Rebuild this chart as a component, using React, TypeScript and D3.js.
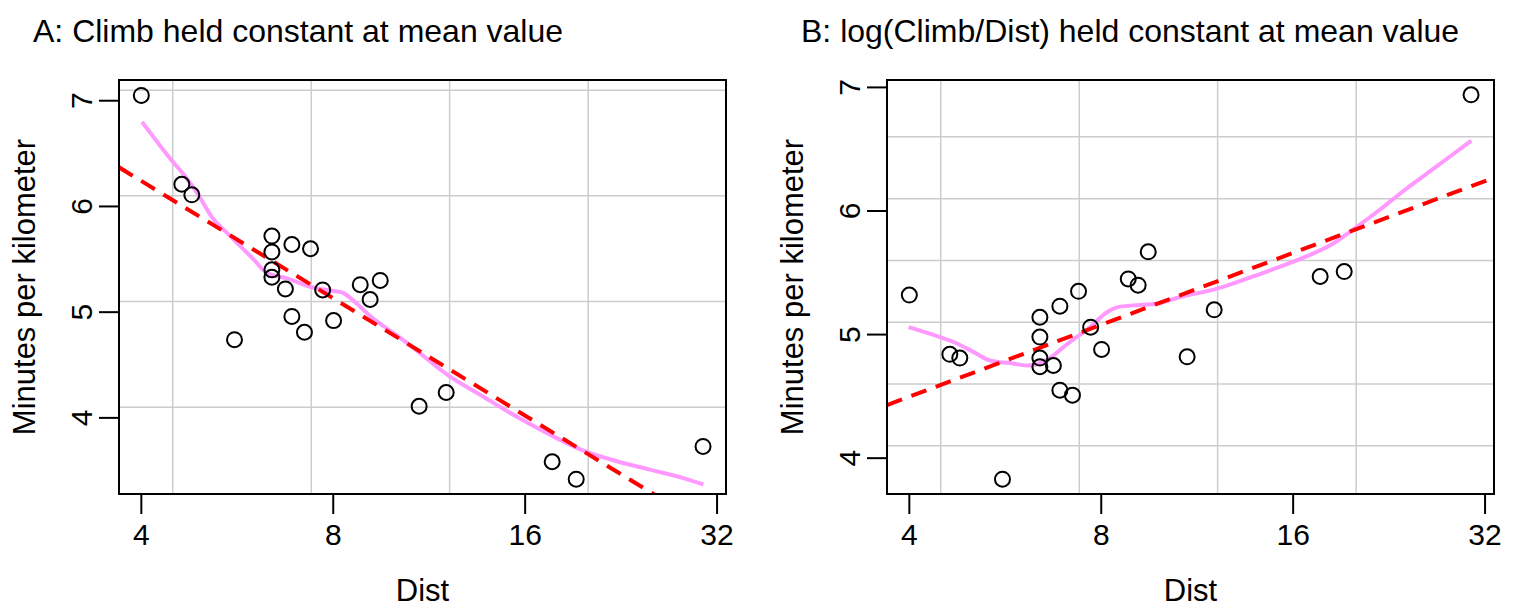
import * as d3 from 'd3';
import { useCallback } from 'react';

// Dist (km), shared by both panels
const distValues = [
  4.0, 4.63, 4.8, 5.6, 6.41, 6.41, 6.41, 6.41, 6.73, 6.89, 6.89, 7.21, 7.37, 7.7, 8.01, 8.82, 9.14,
  9.48, 10.91, 12.03, 17.64, 19.24, 30.42,
];

// Minutes per kilometer, panel A (Climb held at mean)
const minutesA = [
  7.05, 6.21, 6.11, 4.74, 5.72, 5.57, 5.4, 5.33, 5.22, 5.64, 4.96, 4.81, 5.6, 5.21, 4.92, 5.26, 5.12,
  5.3, 4.11, 4.24, 3.585, 3.42, 3.73,
];

// Minutes per kilometer, panel B (log(Climb/Dist) held at mean)
const minutesB = [
  5.32, 4.84, 4.81, 3.83, 5.14, 4.98, 4.81, 4.74, 4.75, 5.23, 4.55, 4.51, 5.35, 5.06, 4.88, 5.45, 5.4,
  5.67, 4.82, 5.2, 5.47, 5.51, 6.94,
];

// fitted lines (end points at the x-axis limits)
const fitA: [number, number][] = [
  [3.69, 6.37],
  [33.05, 2.86],
];
const fitB: [number, number][] = [
  [3.69, 4.43],
  [33.05, 6.27],
];

// smooth curves
const smoothA: [number, number][] = [
  [4.01, 6.8], [4.39, 6.49], [4.72, 6.26], [4.89, 6.13], [5.19, 5.88], [5.45, 5.75], [6.0, 5.5],
  [6.3, 5.37], [6.77, 5.32], [7.36, 5.24], [8.01, 5.2], [8.3, 5.18], [8.6, 5.11], [9.24, 4.94],
  [10.07, 4.78], [10.95, 4.61], [12.2, 4.39], [13.76, 4.2], [15.53, 4.01], [17.51, 3.84],
  [19.75, 3.69], [22.28, 3.59], [25.12, 3.51], [28.33, 3.43], [30.46, 3.37],
];
const smoothB: [number, number][] = [
  [3.99, 5.06], [4.69, 4.94], [5.04, 4.86], [5.35, 4.79], [5.75, 4.77], [6.11, 4.75], [6.34, 4.76],
  [6.65, 4.81], [7.06, 4.92], [7.68, 5.06], [7.87, 5.11], [8.16, 5.18], [8.46, 5.22], [9.2, 5.24],
  [9.77, 5.25], [10.76, 5.31], [12.13, 5.37], [14.36, 5.5], [16.2, 5.6], [18.26, 5.72],
  [20.11, 5.87], [21.88, 6.01], [23.8, 6.16], [26.21, 6.32], [30.46, 6.57],
];

const xTicks = [4, 8, 16, 32];
const yTicks = [4, 5, 6, 7];
const gridDist = [4.48, 7.39, 12.18, 20.09];
const gridYA = [4.1, 5.1, 6.1, 7.1];
const gridYB = [4.1, 4.6, 5.1, 5.6, 6.1, 6.6];

const titles = [
  'A: Climb held constant at mean value',
  'B: log(Climb/Dist) held constant at mean value',
];

const panels = [
  { title: titles[0], y: minutesA, fit: fitA, smooth: smoothA, grid: gridYA, yDomain: [3.28, 7.196] },
  { title: titles[1], y: minutesB, fit: fitB, smooth: smoothB, grid: gridYB, yDomain: [3.71, 7.06] },
];

const W = 1536;
const H = 614;
const FONT = '"Liberation Sans", Arial, Helvetica, sans-serif';

const App = () => {
  const draw = useCallback((ref: SVGSVGElement | null) => {
    if (!ref) return;
    const svg = d3.select(ref);
    svg.selectAll('*').remove();

    const left = 119;
    const right = 726;
    const top = 80;
    const bottom = 494;

    panels.forEach((p, i) => {
      const g = svg.append('g').attr('transform', `translate(${i * 768}, 0)`);

      const x = d3.scaleLog().domain([3.69, 33.05]).range([left, right]);
      const y = d3.scaleLinear().domain(p.yDomain).range([bottom, top]);

      const clipId = `clip-${i}`;
      g.append('clipPath')
        .attr('id', clipId)
        .append('rect')
        .attr('x', left)
        .attr('y', top)
        .attr('width', right - left)
        .attr('height', bottom - top);

      // grid
      g.selectAll('.gx')
        .data(gridDist)
        .join('line')
        .attr('x1', (d) => x(d))
        .attr('x2', (d) => x(d))
        .attr('y1', top)
        .attr('y2', bottom)
        .attr('stroke', '#cccccc')
        .attr('stroke-width', 1.5);
      g.selectAll('.gy')
        .data(p.grid)
        .join('line')
        .attr('x1', left)
        .attr('x2', right)
        .attr('y1', (d) => y(d))
        .attr('y2', (d) => y(d))
        .attr('stroke', '#cccccc')
        .attr('stroke-width', 1.5);

      const plot = g.append('g').attr('clip-path', `url(#${clipId})`);

      const line = d3
        .line<[number, number]>()
        .x((d) => x(d[0]))
        .y((d) => y(d[1]));

      plot
        .append('path')
        .attr('d', line.curve(d3.curveCatmullRom)(p.smooth))
        .attr('fill', 'none')
        .attr('stroke', '#ff99ff')
        .attr('stroke-width', 4);

      plot
        .append('path')
        .attr('d', line.curve(d3.curveLinear)(p.fit))
        .attr('fill', 'none')
        .attr('stroke', '#ff0000')
        .attr('stroke-width', 4)
        .attr('stroke-dasharray', '16,10');

      // points
      g.selectAll('.pt')
        .data(distValues.map((d, k) => [d, p.y[k]]))
        .join('circle')
        .attr('cx', (d) => x(d[0]))
        .attr('cy', (d) => y(d[1]))
        .attr('r', 7.5)
        .attr('fill', 'none')
        .attr('stroke', 'black')
        .attr('stroke-width', 2);

      // box
      g.append('rect')
        .attr('x', left)
        .attr('y', top)
        .attr('width', right - left)
        .attr('height', bottom - top)
        .attr('fill', 'none')
        .attr('stroke', 'black')
        .attr('stroke-width', 2);

      // x axis
      xTicks.forEach((t) => {
        g.append('line')
          .attr('x1', x(t))
          .attr('x2', x(t))
          .attr('y1', bottom)
          .attr('y2', bottom + 20)
          .attr('stroke', 'black')
          .attr('stroke-width', 2);
        g.append('text')
          .attr('x', x(t))
          .attr('y', 545)
          .attr('text-anchor', 'middle')
          .attr('font-family', FONT)
          .attr('font-size', 30)
          .text(t);
      });

      // y axis
      yTicks.forEach((t) => {
        g.append('line')
          .attr('x1', left - 20)
          .attr('x2', left)
          .attr('y1', y(t))
          .attr('y2', y(t))
          .attr('stroke', 'black')
          .attr('stroke-width', 2);
        g.append('text')
          .attr('transform', `translate(92, ${y(t)}) rotate(-90)`)
          .attr('text-anchor', 'middle')
          .attr('font-family', FONT)
          .attr('font-size', 30)
          .text(t);
      });

      g.append('text')
        .attr('x', (left + right) / 2)
        .attr('y', 601)
        .attr('text-anchor', 'middle')
        .attr('font-family', FONT)
        .attr('font-size', 31)
        .text('Dist');

      g.append('text')
        .attr('transform', `translate(35, ${(top + bottom) / 2}) rotate(-90)`)
        .attr('text-anchor', 'middle')
        .attr('font-family', FONT)
        .attr('font-size', 31)
        .text('Minutes per kilometer');

      g.append('text')
        .attr('x', 33)
        .attr('y', 42)
        .attr('font-family', FONT)
        .attr('font-size', 32)
        .text(p.title);
    });
  }, []);

  return (
    <svg
      width={W}
      height={H}
      ref={draw}
      style={{ position: 'absolute', left: 0, top: 0, background: 'white' }}
    ></svg>
  );
};

export default App;
